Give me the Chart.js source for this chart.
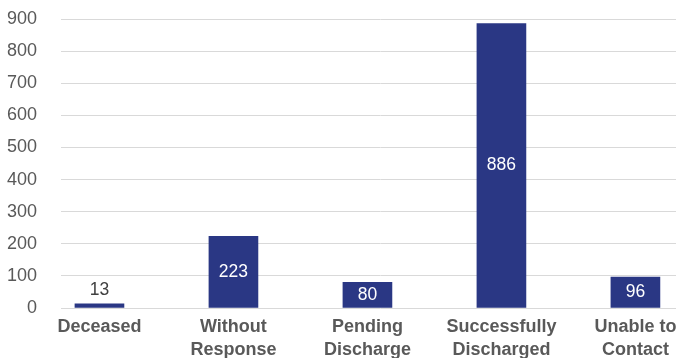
<!DOCTYPE html>
<html>
<head>
<meta charset="utf-8">
<script src="https://cdn.jsdelivr.net/npm/chart.js@4/dist/chart.umd.min.js"></script>
<style>
  html, body { margin: 0; padding: 0; background: #fff; overflow: hidden; }
  #wrap { width: 760px; height: 358px; }
</style>
</head>
<body>
<div id="wrap"><canvas id="chart" width="760" height="358"></canvas></div>
<script>
// data
const categories = [
  ["Deceased"],
  ["Without", "Response"],
  ["Pending", "Discharge"],
  ["Successfully", "Discharged"],
  ["Unable to", "Contact"]
];
const counts = [13, 223, 80, 886, 96];
const yTicks = [0, 100, 200, 300, 400, 500, 600, 700, 800, 900];

const barColor = "#2a3784";
const textGray = "#595959";
const font = "'Liberation Sans', Arial, Helvetica, sans-serif";

// draw value labels (inside bar in white, above if the bar is too short)
const valueLabels = {
  id: "valueLabels",
  afterDatasetsDraw(chart) {
    const ctx = chart.ctx;
    const meta = chart.getDatasetMeta(0);
    ctx.save();
    ctx.font = "17.5px " + font;
    ctx.textAlign = "center";
    ctx.textBaseline = "middle";
    meta.data.forEach((bar, i) => {
      const h = bar.base - bar.y;
      if (h < 20) {
        ctx.fillStyle = "#404040";
        ctx.fillText(String(counts[i]), bar.x, bar.y - 14);
      } else {
        ctx.fillStyle = "#ffffff";
        ctx.fillText(String(counts[i]), bar.x, (bar.y + bar.base) / 2);
      }
    });
    ctx.restore();
  }
};

const ctx = document.getElementById("chart").getContext("2d");
const chart = new Chart(ctx, {
  type: "bar",
  data: {
    datasets: [{
      data: counts.map((v, i) => ({ x: i, y: v })),
      backgroundColor: barColor,
      borderWidth: 0,
      barThickness: 49
    }]
  },
  options: {
    responsive: false,
    animation: false,
    layout: { padding: { top: 19, right: 60, bottom: 0, left: 0 } },
    plugins: {
      legend: { display: false },
      tooltip: { enabled: false }
    },
    scales: {
      x: {
        type: "linear",
        offset: false,
        min: -0.287,
        max: 4.482,
        grid: { display: false, drawTicks: false },
        border: { display: false },
        afterBuildTicks: (s) => { s.ticks = categories.map((c, i) => ({ value: i })); },
        afterFit: (s) => { s.height = 50; },
        ticks: {
          padding: 7,
          maxRotation: 0,
          autoSkip: false,
          color: textGray,
          font: { family: font, size: 18, weight: "bold", lineHeight: 1.3 },
          callback: (v) => categories[v]
        }
      },
      y: {
        min: 0,
        max: 900,
        afterBuildTicks: (s) => { s.ticks = yTicks.map((v) => ({ value: v })); },
        afterFit: (s) => { s.width = 61; s.paddingTop = 0; s.paddingBottom = 0; },
        grid: { color: "#d9d9d9", lineWidth: 1, drawTicks: false },
        border: { display: false },
        ticks: {
          padding: 24,
          color: textGray,
          font: { family: font, size: 18 }
        }
      }
    }
  },
  plugins: [valueLabels]
});
</script>
</body>
</html>
